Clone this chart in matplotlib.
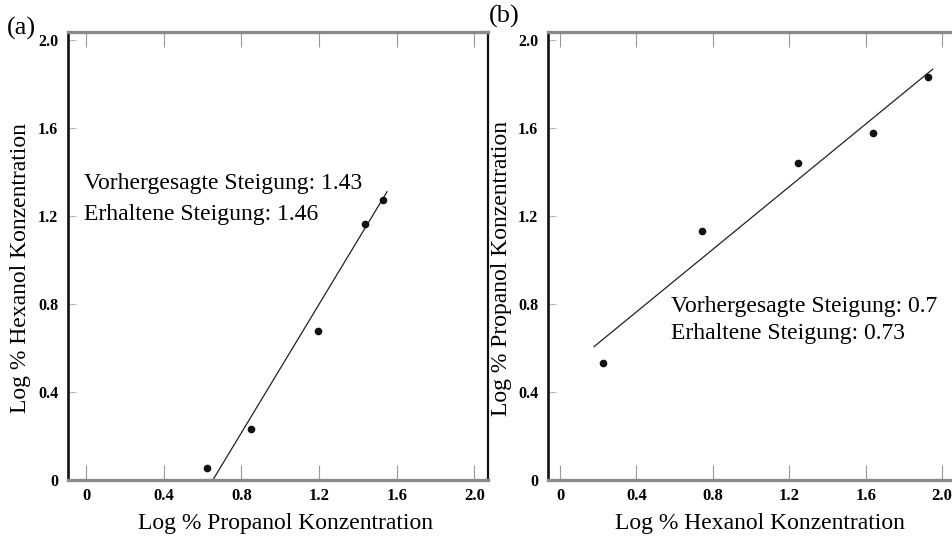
import matplotlib
matplotlib.use("Agg")
import matplotlib.pyplot as plt

# ---- data ----
a_x = [0.622, 0.851, 1.197, 1.435, 1.527]
a_y = [0.056, 0.232, 0.677, 1.164, 1.273]
a_fit_x = [0.653, 1.55]
a_fit_y = [0.0, 1.31]

b_x = [0.225, 0.742, 1.248, 1.640, 1.925]
b_y = [0.530, 1.132, 1.440, 1.579, 1.833]
b_fit_x = [0.178, 1.951]
b_fit_y = [0.606, 1.867]

xticks = [0, 0.4, 0.8, 1.2, 1.6, 2.0]
xticklabels = ["0", "0.4", "0.8", "1.2", "1.6", "2.0"]
yticks = [0, 0.4, 0.8, 1.2, 1.6, 2.0]
yticklabels = ["0", "0.4", "0.8", "1.2", "1.6", "2.0"]

a_xlabel = "Log % Propanol Konzentration"
a_ylabel = "Log % Hexanol Konzentration"
b_xlabel = "Log % Hexanol Konzentration"
b_ylabel = "Log % Propanol Konzentration"
a_lines = ["Vorhergesagte Steigung: 1.43", "Erhaltene Steigung: 1.46"]
b_lines = ["Vorhergesagte Steigung: 0.7", "Erhaltene Steigung: 0.73"]

plt.rcParams['font.family'] = ['Liberation Serif', 'DejaVu Serif']

W, H = 953, 547
fig = plt.figure(figsize=(W / 100, H / 100), dpi=100)

def px_axes(l, r, t, b):
    return fig.add_axes([l / W, 1 - b / H, (r - l) / W, (b - t) / H])

def style(ax, xlim, ylim, show_right):
    ax.set_xlim(*xlim)
    ax.set_ylim(*ylim)
    ax.set_xticks(xticks)
    ax.set_xticklabels(xticklabels, fontsize=12, fontweight='bold')
    ax.set_yticks(yticks)
    ax.set_yticklabels(yticklabels, fontsize=11.5, fontweight='bold')
    ax.tick_params(axis='x', direction='in', top=True, bottom=True, length=11,
                   width=0.8, color='#999999', pad=6)
    ax.tick_params(axis='y', direction='in', left=True, right=False, length=6,
                   width=0.6, color='#aaaaaa', pad=7)
    for s in ['top', 'bottom']:
        ax.spines[s].set_color('#8a8a8a')
        ax.spines[s].set_linewidth(2.4)
    ax.spines['left'].set_color('#111111')
    ax.spines['left'].set_linewidth(1.9)
    if show_right:
        ax.spines['right'].set_color('#111111')
        ax.spines['right'].set_linewidth(1.6)
    else:
        ax.spines['right'].set_visible(False)

LBL = 17

# panel a
ax1 = px_axes(68, 488, 32, 480)
style(ax1, (-0.093, 2.07), (0, 2.036), True)
ax1.plot(a_fit_x, a_fit_y, color='#222222', lw=0.9)
ax1.plot(a_x, a_y, 'o', color='#111111', ms=4.5)
ax1.set_xlabel(a_xlabel, fontsize=LBL)
ax1.set_ylabel(a_ylabel, fontsize=LBL)
ax1.xaxis.set_label_coords(0.517, -0.098)
ax1.yaxis.set_label_coords(-0.114, 0.473)

# panel b
ax2 = px_axes(548, 960, 32, 480)
style(ax2, (-0.063, 2.094), (0, 2.036), False)
ax2.plot(b_fit_x, b_fit_y, color='#222222', lw=0.9)
ax2.plot(b_x, b_y, 'o', color='#111111', ms=4.5)
ax2.set_xlabel(b_xlabel, fontsize=LBL)
ax2.set_ylabel(b_ylabel, fontsize=LBL)
ax2.xaxis.set_label_coords(0.514, -0.098)
ax2.yaxis.set_label_coords(-0.114, 0.473)
for lab in (ax1.xaxis.label, ax2.xaxis.label):
    lab.set_va('center')
for lab in (ax1.yaxis.label, ax2.yaxis.label):
    lab.set_va('center')

# annotations (baselines in figure pixels)
for line, base in zip(a_lines, [189, 220]):
    fig.text(84 / W, 1 - base / H, line, fontsize=LBL, va='baseline', ha='left')
for line, base in zip(b_lines, [312, 339]):
    fig.text(671 / W, 1 - base / H, line, fontsize=LBL, va='baseline', ha='left')

fig.text(7 / W, 1 - 28 / H, "(a)", fontsize=19, va='center', ha='left')
fig.text(489 / W, 1 - 16 / H, "(b)", fontsize=19, va='center', ha='left')

fig.savefig("out.png", dpi=100)
